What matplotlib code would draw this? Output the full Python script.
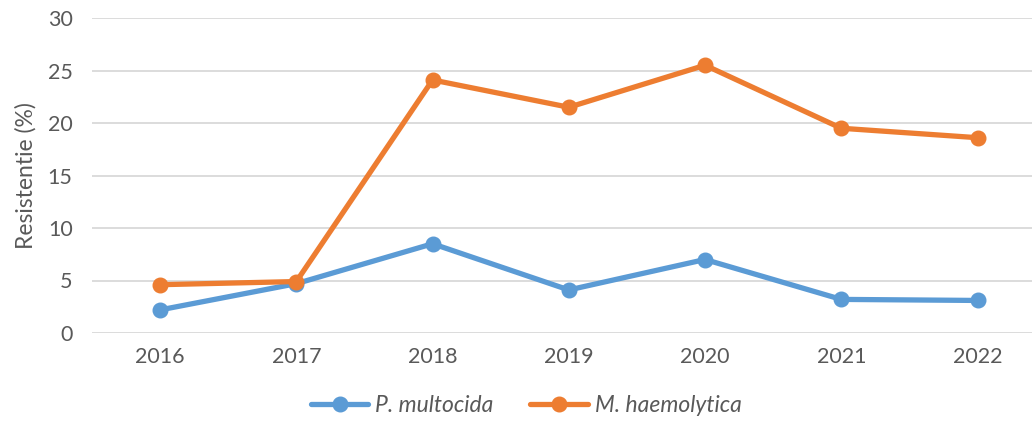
import numpy as np
import matplotlib.pyplot as plt

years = ['2016', '2017', '2018', '2019', '2020', '2021', '2022']
p_multocida = [2.2, 4.7, 8.5, 4.1, 7.0, 3.2, 3.1]
m_haemolytica = [4.6, 4.9, 24.1, 21.5, 25.5, 19.5, 18.6]

plt.rcParams['font.family'] = ['Lato', 'DejaVu Sans']
txt = '#595959'

fig = plt.figure(figsize=(10.36, 4.32), dpi=100)
ax = fig.add_axes([92/1036, 1-333/432, 940/1036, (333-18)/432])

x = np.arange(len(years))
ax.plot(x, p_multocida, color='#5B9BD5', lw=3.8, marker='o', ms=10.5,
        label='P. multocida', solid_capstyle='round')
ax.plot(x, m_haemolytica, color='#ED7D31', lw=3.8, marker='o', ms=10.5,
        label='M. haemolytica', solid_capstyle='round')

ax.set_xlim(-0.5, 6.4)
ax.set_ylim(0, 30)
ax.set_yticks(range(0, 31, 5))
ax.set_xticks(x)
ax.set_xticklabels(years)
ax.grid(axis='y', color='#D9D9D9', lw=1.3)
ax.set_axisbelow(True)
for s in ax.spines.values():
    s.set_visible(False)
ax.tick_params(length=0, labelsize=15.5, colors=txt, pad=10)
ax.tick_params(axis='y', pad=14)
ax.set_ylabel('Resistentie (%)', fontsize=16.5, color=txt, labelpad=8)

# legend below the plot, centred like the Excel original
fig.legend(loc='lower center', bbox_to_anchor=(0.508, -0.01), ncol=2, frameon=False,
           prop={'style': 'italic', 'size': 16.5}, labelcolor=txt,
           handlelength=2.5, columnspacing=1.6, handletextpad=0.3)

fig.savefig('out.png', dpi=100)
